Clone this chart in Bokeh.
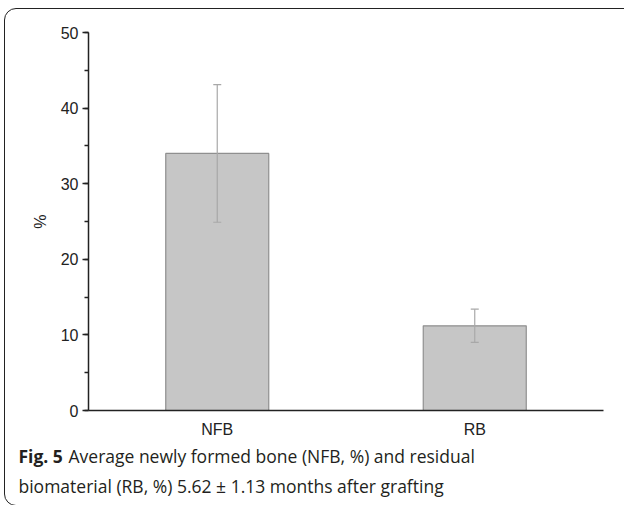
from bokeh.plotting import figure
from bokeh.layouts import column
from bokeh.models import (ColumnDataSource, FactorRange, Range1d, Whisker, TeeHead,
                          SingleIntervalTicker, Label, InlineStyleSheet)
from bokeh.embed import file_html
from bokeh.resources import INLINE

categories = ["NFB", "RB"]
means = [34.0, 11.2]
upper = [43.1, 13.4]
lower = [24.9, 9.0]
y_ticks_interval = 10
caption_bold = "Fig. 5"
caption_line1 = "Average newly formed bone (NFB, %) and residual"
caption_line2 = "biomaterial (RB, %) 5.62 \u00b1 1.13 months after grafting"
y_label = "%"

src = ColumnDataSource(data=dict(cat=categories, mean=means, upper=upper, lower=lower))

p = figure(width=624, height=440, x_range=FactorRange(factors=categories),
           y_range=Range1d(0, 50), output_backend="svg", toolbar_location=None, title=None,
           min_border_left=88, min_border_right=21, min_border_top=32, min_border_bottom=28)
p.outline_line_color = None
p.grid.visible = False

p.vbar(x="cat", top="mean", width=0.4, source=src, fill_color="#c6c6c6",
       line_color="#8f8f8f", line_width=1.2)

w = Whisker(base="cat", upper="upper", lower="lower", source=src, level="annotation",
            line_color="#a8a8a8", line_width=1.2,
            upper_head=TeeHead(size=8, line_color="#a8a8a8", line_width=1.2),
            lower_head=TeeHead(size=8, line_color="#a8a8a8", line_width=1.2))
p.add_layout(w)

ax = p.yaxis[0]
ax.ticker = SingleIntervalTicker(interval=y_ticks_interval, num_minor_ticks=2)
ax.axis_line_width = 1.5
ax.axis_line_color = "#222222"
ax.major_tick_line_color = "#222222"
ax.major_tick_line_width = 1.5
ax.major_tick_out = 6
ax.major_tick_in = 0
ax.minor_tick_line_color = "#222222"
ax.minor_tick_line_width = 1.5
ax.minor_tick_out = 4
ax.minor_tick_in = 0
ax.major_label_text_font = "Liberation Sans"
ax.major_label_text_font_size = "16px"
ax.major_label_text_color = "#222222"
ax.major_label_standoff = 4
ax.axis_label = y_label
ax.axis_label_text_font = "Liberation Sans"
ax.axis_label_text_font_size = "16px"
ax.axis_label_text_font_style = "normal"
ax.axis_label_text_color = "#222222"
ax.axis_label_standoff = 9

xa = p.xaxis[0]
xa.axis_line_width = 1.5
xa.axis_line_color = "#222222"
xa.major_tick_line_color = None
xa.minor_tick_line_color = None
xa.major_tick_out = 0
xa.major_tick_in = 0
xa.minor_tick_out = 0
xa.minor_tick_in = 0
xa.major_label_text_font = "Liberation Sans"
xa.major_label_text_font_size = "16px"
xa.major_label_text_color = "#222222"
xa.major_label_standoff = 10

cap = figure(width=624, height=65, x_range=Range1d(0, 624), y_range=Range1d(65, 0),
             output_backend="svg", toolbar_location=None, title=None,
             x_axis_location=None, y_axis_location=None,
             min_border=0, min_border_left=0, min_border_right=0,
             min_border_top=0, min_border_bottom=0)
cap.outline_line_color = None
cap.grid.visible = False

for fig in (p, cap):
    try:
        fig.frame_align = False
    except Exception:
        pass

cap_font = "Open Sans"
cap_size = "17.5px"
cap_color = "#231f20"
cap.add_layout(Label(x=18, y=15, text=caption_bold, text_font=cap_font,
                     text_font_style="bold", text_font_size=cap_size,
                     text_color=cap_color, text_baseline="alphabetic"))
cap.add_layout(Label(x=68, y=15, text=caption_line1, text_font=cap_font,
                     text_font_size=cap_size, text_color=cap_color,
                     text_baseline="alphabetic"))
cap.add_layout(Label(x=18, y=45, text=caption_line2, text_font=cap_font,
                     text_font_size=cap_size, text_color=cap_color,
                     text_baseline="alphabetic"))

frame_css = InlineStyleSheet(css="""
:host { position: relative; overflow: hidden; }
:host::after {
  content: ""; position: absolute; left: 4px; top: 8px; width: 640px; height: 498px;
  max-width: none; max-height: none; min-width: 640px;
  border: 1.5px solid #222222; border-radius: 12px; pointer-events: none; box-sizing: border-box;
}
""")

layout = column(p, cap, spacing=0, stylesheets=[frame_css])

open("out.html", "w").write(file_html(layout, INLINE))
